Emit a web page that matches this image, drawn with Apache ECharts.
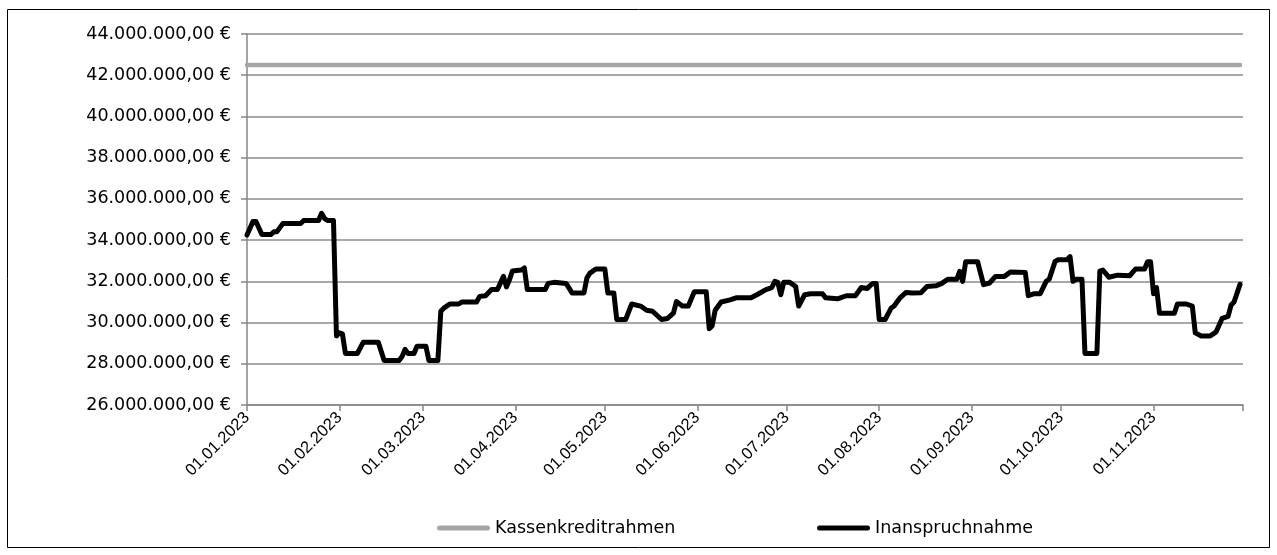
<!DOCTYPE html>
<html>
<head>
<meta charset="utf-8">
<script src="https://cdn.jsdelivr.net/npm/echarts@6/dist/echarts.min.js"></script>
<style>
html,body{margin:0;padding:0;background:#fff;}
#chart{width:1277px;height:555px;}
</style>
</head>
<body>
<div id="chart"></div>
<script>
// ---- data ----
const seriesNames = ['Kassenkreditrahmen', 'Inanspruchnahme'];
const limitDates = ['2023-01-01', '2023-11-30'];
const limitValues = [42500000, 42500000];
const useDates = [
 '2023-01-01','2023-01-03','2023-01-04','2023-01-06','2023-01-09','2023-01-10','2023-01-11','2023-01-13','2023-01-19','2023-01-20',
 '2023-01-25','2023-01-26','2023-01-27','2023-01-28','2023-01-30','2023-01-31','2023-02-01','2023-02-02','2023-02-03','2023-02-07',
 '2023-02-09','2023-02-14','2023-02-16','2023-02-21','2023-02-22','2023-02-23','2023-02-24','2023-02-26','2023-02-27','2023-03-02',
 '2023-03-03','2023-03-06','2023-03-07','2023-03-08','2023-03-10','2023-03-13','2023-03-14','2023-03-19','2023-03-20','2023-03-22',
 '2023-03-24','2023-03-26','2023-03-28','2023-03-29','2023-03-30','2023-03-31','2023-04-03','2023-04-04','2023-04-05','2023-04-11',
 '2023-04-12','2023-04-14','2023-04-18','2023-04-20','2023-04-24','2023-04-25','2023-04-26','2023-04-28','2023-05-01','2023-05-02',
 '2023-05-04','2023-05-05','2023-05-08','2023-05-10','2023-05-13','2023-05-15','2023-05-17','2023-05-20','2023-05-22','2023-05-24',
 '2023-05-25','2023-05-27','2023-05-29','2023-05-31','2023-06-04','2023-06-05','2023-06-06','2023-06-07','2023-06-09','2023-06-12',
 '2023-06-14','2023-06-19','2023-06-21','2023-06-24','2023-06-26','2023-06-27','2023-06-28','2023-06-29','2023-06-30','2023-07-02',
 '2023-07-04','2023-07-05','2023-07-07','2023-07-09','2023-07-13','2023-07-14','2023-07-18','2023-07-21','2023-07-24','2023-07-26',
 '2023-07-28','2023-07-29','2023-07-30','2023-07-31','2023-08-01','2023-08-03','2023-08-05','2023-08-06','2023-08-08','2023-08-10',
 '2023-08-12','2023-08-15','2023-08-17','2023-08-20','2023-08-22','2023-08-24','2023-08-27','2023-08-28','2023-08-29','2023-08-30',
 '2023-09-03','2023-09-05','2023-09-07','2023-09-09','2023-09-12','2023-09-14','2023-09-19','2023-09-20','2023-09-22','2023-09-24',
 '2023-09-26','2023-09-27','2023-09-29','2023-09-30','2023-10-03','2023-10-04','2023-10-05','2023-10-06','2023-10-08','2023-10-09',
 '2023-10-13','2023-10-14','2023-10-15','2023-10-17','2023-10-20','2023-10-24','2023-10-26','2023-10-29','2023-10-30','2023-10-31',
 '2023-11-01','2023-11-02','2023-11-03','2023-11-08','2023-11-09','2023-11-12','2023-11-14','2023-11-15','2023-11-17','2023-11-20',
 '2023-11-22','2023-11-24','2023-11-26','2023-11-27','2023-11-28','2023-11-30'
];
const useValues = [
 34250000,34900000,34900000,34270000,34270000,34400000,34400000,34800000,34800000,34950000,
 34950000,35300000,35050000,34950000,34950000,29350000,29500000,29450000,28500000,28500000,
 29050000,29050000,28160000,28160000,28350000,28700000,28500000,28500000,28850000,28850000,
 28160000,28160000,30550000,30700000,30900000,30900000,31000000,31000000,31270000,31300000,
 31600000,31600000,32240000,31730000,32070000,32500000,32550000,32650000,31600000,31600000,
 31900000,31950000,31900000,31440000,31440000,32170000,32400000,32600000,32600000,31440000,
 31440000,30150000,30150000,30900000,30800000,30600000,30550000,30150000,30200000,30460000,
 31020000,30800000,30800000,31500000,31500000,29700000,29850000,30600000,31000000,31100000,
 31200000,31200000,31350000,31600000,31700000,32000000,31950000,31350000,31950000,31950000,
 31750000,30800000,31350000,31400000,31400000,31200000,31150000,31300000,31300000,31700000,
 31650000,31800000,31900000,31900000,30150000,30150000,30700000,30800000,31200000,31460000,
 31430000,31450000,31750000,31780000,31900000,32100000,32100000,32480000,32000000,32950000,
 32950000,31840000,31920000,32240000,32240000,32450000,32430000,31300000,31400000,31400000,
 32000000,32100000,32970000,33050000,33050000,33200000,32000000,32100000,32100000,28500000,
 28500000,32500000,32550000,32200000,32300000,32270000,32600000,32600000,32950000,32950000,
 31400000,31700000,30450000,30450000,30900000,30900000,30800000,29500000,29350000,29350000,
 29550000,30200000,30300000,30850000,31000000,31850000
];
const yMin = 26000000, yMax = 44000000, yStep = 2000000;
const xStart = '2023-01-01', xEnd = '2023-12-01';
const tickDates = ['2023-01-01','2023-02-01','2023-03-01','2023-04-01','2023-05-01','2023-06-01','2023-07-01','2023-08-01','2023-09-01','2023-10-01','2023-11-01','2023-12-01'];
const labelDates = ['2023-01-01','2023-02-01','2023-03-01','2023-04-01','2023-05-01','2023-06-01','2023-07-01','2023-08-01','2023-09-01','2023-10-01','2023-11-01'];

// ---- helpers ----
function toTs(s){const p=s.split('-');return Date.UTC(+p[0],+p[1]-1,+p[2]);}
function pad(n){return (n<10?'0':'')+n;}
function fmtDate(v){const d=new Date(v);return pad(d.getUTCDate())+'.'+pad(d.getUTCMonth()+1)+'.'+d.getUTCFullYear();}
function fmtEuro(v){return String(Math.round(v)).replace(/\B(?=(\d{3})+(?!\d))/g,'.')+',00 €';}

const FONT = 'Liberation Sans, Arial, sans-serif';
const WIDE = 'DejaVu Sans, Verdana, sans-serif';
const legendIcon = 'path://M2.5,0 L50.5,0 A2.5,2.5 0 0 1 50.5,5 L2.5,5 A2.5,2.5 0 0 1 2.5,0 Z';
const chart = echarts.init(document.getElementById('chart'), null, {renderer:'canvas'});
chart.setOption({
  animation:false,
  backgroundColor:'#ffffff',
  textStyle:{fontFamily:FONT},
  graphic:[{type:'rect',shape:{x:7.5,y:9.5,width:1262,height:538},style:{fill:'none',stroke:'#000',lineWidth:1},silent:true}],
  grid:{left:247,right:34,top:34,bottom:150,containLabel:false},
  legend:[
    {data:[seriesNames[0]],left:437,top:518,padding:0,itemWidth:53,itemHeight:5,icon:legendIcon,
     textStyle:{fontSize:17.5,color:'#000',fontFamily:WIDE,lineHeight:20}},
    {data:[seriesNames[1]],left:817,top:518,padding:0,itemWidth:53,itemHeight:5,icon:legendIcon,
     textStyle:{fontSize:17.5,color:'#000',fontFamily:WIDE,lineHeight:20}}
  ],
  xAxis:{
    type:'value',
    min:toTs(xStart),max:toTs(xEnd),
    axisLine:{lineStyle:{color:'#868686',width:1.5}},
    axisTick:{show:true,length:6,lineStyle:{color:'#868686',width:1.5},customValues:tickDates.map(toTs)},
    axisLabel:{rotate:45,fontSize:16.5,color:'#000',fontFamily:FONT,margin:10,customValues:labelDates.map(toTs),formatter:fmtDate},
    splitLine:{show:false}
  },
  yAxis:{
    type:'value',
    min:yMin,max:yMax,interval:yStep,
    axisLine:{show:true,lineStyle:{color:'#868686',width:1.5}},
    axisTick:{show:true,length:6,lineStyle:{color:'#868686',width:1.5}},
    axisLabel:{fontSize:17.5,color:'#000',fontFamily:WIDE,margin:16,formatter:fmtEuro},
    splitLine:{show:true,lineStyle:{color:'#8c8c8c',width:1.5}}
  },
  series:[
    {name:seriesNames[0],type:'line',data:limitDates.map((d,i)=>[toTs(d),limitValues[i]]),
     showSymbol:false,symbol:'none',color:'#a6a6a6',
     lineStyle:{color:'#a6a6a6',width:4.5,cap:'round',join:'round'}},
    {name:seriesNames[1],type:'line',data:useDates.map((d,i)=>[toTs(d),useValues[i]]),
     showSymbol:false,symbol:'none',color:'#000000',
     lineStyle:{color:'#000000',width:5,cap:'round',join:'round'}}
  ]
});
</script>
</body>
</html>
